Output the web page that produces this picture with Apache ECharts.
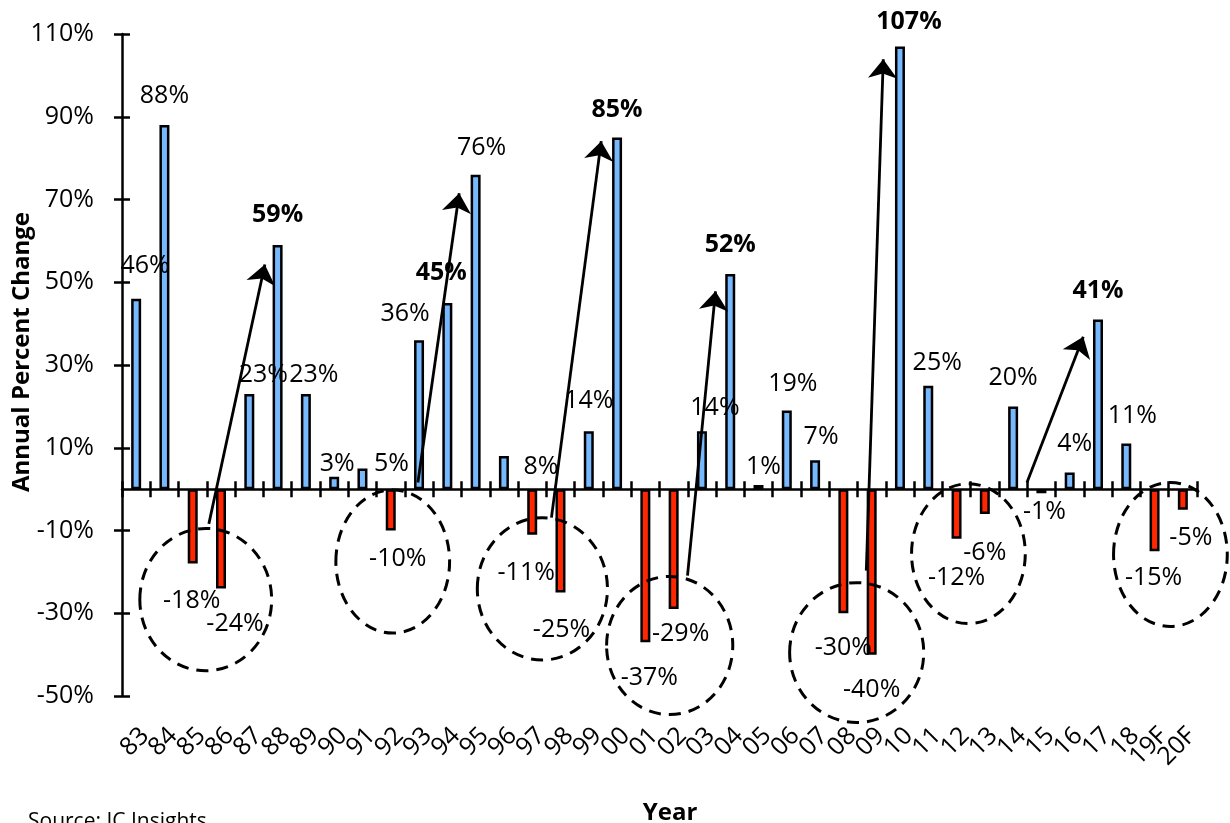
<!DOCTYPE html>
<html>
<head>
<meta charset="utf-8">
<title>Annual Percent Change</title>
<script src="https://cdn.jsdelivr.net/npm/echarts@6/dist/echarts.min.js"></script>
<style>
  html, body { margin: 0; padding: 0; background: #ffffff; }
  #chart { width: 1230px; height: 823px; }
</style>
</head>
<body>
<div id="chart"></div>
<script>
// ---- data ----
const years = ['83','84','85','86','87','88','89','90','91','92','93','94','95','96','97','98','99','00',
               '01','02','03','04','05','06','07','08','09','10','11','12','13','14','15','16','17','18','19F','20F'];
const growth = [46, 88, -18, -24, 23, 59, 23, 3, 5, -10, 36, 45, 76, 8, -11, -25, 14, 85,
                -37, -29, 14, 52, 1, 19, 7, -30, -40, 107, 25, -12, -6, 20, -1, 4, 41, 11, -15, -5];
// cycle peaks, printed in bold
const peakYears = ['88', '94', '00', '04', '10', '17'];
// value axis range and step (percent)
const yMin = -50;
const yMax = 110;
const yStep = 20;

// ---- label nudges (px) relative to the bar end: [dx, dy] ----
const labelShift = [
  [9, -20], [0, -17], [-1, 25], [14, 23], [14, -7], [0, -18], [8, -7], [3, 0], [29, 8], [7, 16],
  [-14, -14], [-6, -18], [6, -14], [37, 23], [-6, 26], [1, 25], [0, -18], [0, -15], [4, 23], [7, 12],
  [13, -11], [0, -17], [5, -6], [6, -14], [6, -11], [0, 22], [0, 23], [9, -12], [9, -10], [0, 27],
  [0, 26], [0, -16], [3, 6], [5, -16], [0, -16], [6, -15], [-1, 14], [8, 16]
];

// downturn rings: [category position, value, half-width (categories), half-height (%)]
const downturnRings = [
  [2.46, -26.7, 2.33, 17.2],
  [9.07, -17.5, 2.01, 17.3],
  [14.36, -24.1, 2.30, 17.2],
  [18.86, -37.8, 2.23, 16.7],
  [25.47, -39.5, 2.37, 16.9],
  [29.42, -15.6, 2.01, 16.9],
  [36.56, -15.8, 2.01, 17.4]
];
// recovery arrows: [from position, from value, to position, to value]
const recoveryArrows = [
  [2.57, -8.4, 4.55, 54.3],
  [9.96, 1.6, 11.42, 71.5],
  [14.68, -6.9, 16.44, 84.1],
  [19.49, -20.9, 20.48, 47.8],
  [25.81, -19.7, 26.41, 103.9],
  [31.49, 1.6, 33.48, 36.8]
];

// ---- styles ----
const FONT = '"Open Sans", "Noto Sans", sans-serif';
const BLUE = '#77B9FF';
const RED = '#FF2600';
const INK = '#000000';
const axisStroke = { color: INK, width: 2.5 };
const NUM_SIZE = 25;

const chart = echarts.init(document.getElementById('chart'), null, { renderer: 'canvas' });

const barData = growth.map((v, i) => ({
  value: v,
  itemStyle: { color: v >= 0 ? BLUE : RED },
  label: {
    offset: labelShift[i],
    fontWeight: peakYears.includes(years[i]) ? 'bold' : 'normal'
  }
}));

const option = {
  animation: false,
  backgroundColor: '#ffffff',
  textStyle: { fontFamily: FONT },
  grid: { left: 122, right: 33, top: 34, bottom: 127, containLabel: false },
  xAxis: [
    { // year labels along the bottom edge
      type: 'category', data: years, position: 'bottom',
      axisLine: { show: false, onZero: false },
      axisTick: { show: false },
      axisLabel: {
        interval: 0, rotate: 45, margin: 27, verticalAlign: 'top',
        fontSize: NUM_SIZE, color: INK, fontFamily: FONT
      },
      splitLine: { show: false }
    },
    { // zero line with ticks below it
      type: 'category', data: years, position: 'bottom',
      axisLine: { show: true, onZero: true, onZeroAxisIndex: 0, lineStyle: axisStroke },
      axisTick: { show: true, interval: 0, inside: false, length: 8, lineStyle: axisStroke },
      axisLabel: { show: false }, splitLine: { show: false }
    },
    { // ticks above the zero line
      type: 'category', data: years, position: 'bottom',
      axisLine: { show: false, onZero: true, onZeroAxisIndex: 0 },
      axisTick: { show: true, interval: 0, inside: true, length: 8, lineStyle: axisStroke },
      axisLabel: { show: false }, splitLine: { show: false }
    },
    { // continuous twin of the year axis for annotations
      type: 'value', min: -0.5, max: years.length - 0.5, show: false,
      axisLine: { onZero: false }, splitLine: { show: false }
    }
  ],
  yAxis: [
    {
      type: 'value', min: yMin, max: yMax, interval: yStep, position: 'left',
      axisLine: { show: true, onZero: false, lineStyle: axisStroke },
      axisTick: { show: true, length: 8, lineStyle: axisStroke },
      axisLabel: { formatter: '{value}%', fontSize: NUM_SIZE, color: INK, margin: 28, fontFamily: FONT },
      splitLine: { show: false }
    },
    {
      type: 'value', min: yMin, max: yMax, interval: yStep, position: 'left',
      axisLine: { show: false, onZero: false },
      axisTick: { show: true, inside: true, length: 8, lineStyle: axisStroke },
      axisLabel: { show: false },
      splitLine: { show: false }
    }
  ],
  series: [
    {
      name: 'Annual Percent Change',
      type: 'bar', xAxisIndex: 0, yAxisIndex: 0,
      barWidth: 10,
      data: barData,
      itemStyle: { borderColor: INK, borderWidth: 2.5 },
      label: {
        show: true, position: 'outside', distance: 0,
        formatter: p => p.value + '%',
        fontSize: NUM_SIZE, lineHeight: 25, color: INK, fontFamily: FONT
      },
      emphasis: { disabled: true },
      z: 2
    },
    {
      name: 'downturns',
      type: 'custom', xAxisIndex: 3, yAxisIndex: 0,
      clip: false, silent: true, z: 4,
      data: downturnRings,
      encode: { x: 0, y: 1 },
      renderItem: (params, api) => {
        const c = api.coord([api.value(0), api.value(1)]);
        const s = api.size([api.value(2), api.value(3)]);
        return {
          type: 'ellipse',
          shape: { cx: c[0], cy: c[1], rx: s[0], ry: s[1] },
          style: { fill: 'none', stroke: INK, lineWidth: 3, lineDash: [12, 8] }
        };
      },
      markLine: {
        silent: true, animation: false,
        symbol: ['none', 'arrow'],
        label: { show: false },
        lineStyle: { color: INK, width: 2.8, type: 'solid', opacity: 1 },
        emphasis: { disabled: true },
        data: recoveryArrows.map(a => [
          { coord: [a[0], a[1]], symbol: 'none' },
          { coord: [a[2], a[3]], symbol: 'arrow', symbolSize: [22, 19] }
        ])
      }
    }
  ],
  graphic: [
    {
      type: 'text', x: 22, y: 352, rotation: Math.PI / 2,
      style: {
        text: 'Annual Percent Change', font: 'bold 24px ' + FONT,
        fill: INK, align: 'center', verticalAlign: 'middle'
      }
    },
    {
      type: 'text', x: 670, y: 813,
      style: {
        text: 'Year', font: 'bold 24px ' + FONT,
        fill: INK, align: 'center', verticalAlign: 'middle'
      }
    },
    {
      type: 'text', x: 28, y: 822,
      style: {
        text: 'Source: IC Insights', font: '21px ' + FONT,
        fill: INK, align: 'left', verticalAlign: 'middle'
      }
    }
  ]
};

chart.setOption(option);
</script>
</body>
</html>
